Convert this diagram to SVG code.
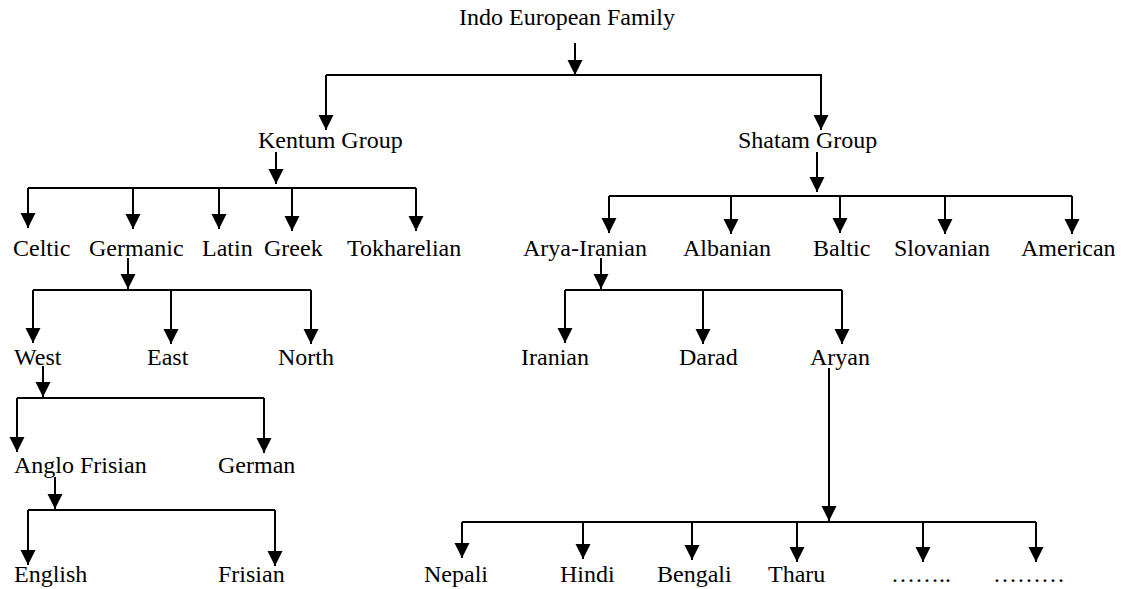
<svg xmlns="http://www.w3.org/2000/svg" width="1124" height="589" viewBox="0 0 1124 589">
<style>
.t{font-family:"Liberation Serif","Times New Roman",serif;font-size:24px;fill:#000}
.c line,.c polyline{stroke:#000;stroke-width:2;fill:none}
.a{marker-end:url(#ah)}
</style>
<defs>
<marker id="ah" markerUnits="userSpaceOnUse" markerWidth="16" markerHeight="16" refX="15" refY="7.5" orient="auto">
<path d="M0,0 L15,7.5 L0,15 Z" fill="#000"/>
</marker>
</defs>
<rect width="1124" height="589" fill="#fff"/>
<g id="connectors" class="c">
<line class="a" x1="575" y1="43" x2="575" y2="75"/>
<polyline class="a" points="326,75 821,75 821,130"/>
<line class="a" x1="326" y1="75" x2="326" y2="130"/>

<line class="a" x1="276" y1="152" x2="276" y2="184"/>
<line x1="28" y1="188" x2="416" y2="188"/>
<line class="a" x1="28" y1="188" x2="28" y2="228"/>
<line class="a" x1="133" y1="188" x2="133" y2="229"/>
<line class="a" x1="219" y1="188" x2="219" y2="229"/>
<line class="a" x1="292" y1="188" x2="292" y2="231"/>
<line class="a" x1="416" y1="188" x2="416" y2="231"/>

<line class="a" x1="817" y1="152" x2="817" y2="192"/>
<line x1="609" y1="196" x2="1072" y2="196"/>
<line class="a" x1="609" y1="196" x2="609" y2="233"/>
<line class="a" x1="731" y1="196" x2="731" y2="234"/>
<line class="a" x1="840" y1="196" x2="840" y2="233"/>
<line class="a" x1="945" y1="196" x2="945" y2="234"/>
<line class="a" x1="1072" y1="196" x2="1072" y2="234"/>

<line class="a" x1="128" y1="258" x2="128" y2="289"/>
<line x1="33" y1="290" x2="311" y2="290"/>
<line class="a" x1="33" y1="290" x2="33" y2="343"/>
<line class="a" x1="171" y1="290" x2="171" y2="344"/>
<line class="a" x1="311" y1="290" x2="311" y2="344"/>

<line class="a" x1="601" y1="258" x2="601" y2="289"/>
<line x1="565" y1="290" x2="842" y2="290"/>
<line class="a" x1="565" y1="290" x2="565" y2="343"/>
<line class="a" x1="703" y1="290" x2="703" y2="344"/>
<line class="a" x1="842" y1="290" x2="842" y2="344"/>

<line class="a" x1="43" y1="366" x2="43" y2="397"/>
<line x1="17" y1="398" x2="264" y2="398"/>
<line class="a" x1="17" y1="398" x2="17" y2="452"/>
<line class="a" x1="264" y1="398" x2="264" y2="453"/>

<line class="a" x1="55" y1="477" x2="55" y2="509"/>
<line x1="28" y1="510" x2="275" y2="510"/>
<line class="a" x1="28" y1="510" x2="28" y2="565"/>
<line class="a" x1="275" y1="510" x2="275" y2="566"/>

<line class="a" x1="829" y1="368" x2="829" y2="521"/>
<line x1="462" y1="522" x2="1036" y2="522"/>
<line class="a" x1="462" y1="522" x2="462" y2="558"/>
<line class="a" x1="583" y1="522" x2="583" y2="559"/>
<line class="a" x1="692" y1="522" x2="692" y2="560"/>
<line class="a" x1="797" y1="522" x2="797" y2="562"/>
<line class="a" x1="923" y1="522" x2="923" y2="562"/>
<line class="a" x1="1036" y1="522" x2="1036" y2="562"/>
</g>
<g id="n-indo"><text class="t" x="459" y="25">Indo European Family</text></g>
<g id="n-kentum"><text class="t" x="258" y="148">Kentum Group</text></g>
<g id="n-shatam"><text class="t" x="738" y="148">Shatam Group</text></g>
<g id="n-celtic"><text class="t" x="13" y="256">Celtic</text></g>
<g id="n-germanic"><text class="t" x="89" y="256">Germanic</text></g>
<g id="n-latin"><text class="t" x="202" y="256">Latin</text></g>
<g id="n-greek"><text class="t" x="264" y="256">Greek</text></g>
<g id="n-tokharelian"><text class="t" x="347" y="256">Tokharelian</text></g>
<g id="n-aryairanian"><text class="t" x="523" y="256">Arya-Iranian</text></g>
<g id="n-albanian"><text class="t" x="683" y="256">Albanian</text></g>
<g id="n-baltic"><text class="t" x="813" y="256">Baltic</text></g>
<g id="n-slovanian"><text class="t" x="894" y="256">Slovanian</text></g>
<g id="n-american"><text class="t" x="1021" y="256">American</text></g>
<g id="n-west"><text class="t" x="14" y="365">West</text></g>
<g id="n-east"><text class="t" x="147" y="365">East</text></g>
<g id="n-north"><text class="t" x="278" y="365">North</text></g>
<g id="n-iranian"><text class="t" x="521" y="365">Iranian</text></g>
<g id="n-darad"><text class="t" x="679" y="365">Darad</text></g>
<g id="n-aryan"><text class="t" x="810" y="365">Aryan</text></g>
<g id="n-anglofrisian"><text class="t" x="14" y="473">Anglo Frisian</text></g>
<g id="n-german"><text class="t" x="218" y="473">German</text></g>
<g id="n-english"><text class="t" x="14" y="582">English</text></g>
<g id="n-frisian"><text class="t" x="218" y="582">Frisian</text></g>
<g id="n-nepali"><text class="t" x="424" y="582">Nepali</text></g>
<g id="n-hindi"><text class="t" x="560" y="582">Hindi</text></g>
<g id="n-bengali"><text class="t" x="657" y="582">Bengali</text></g>
<g id="n-tharu"><text class="t" x="768" y="582">Tharu</text></g>
<g id="n-dots1"><text class="t" x="891" y="582">……..</text></g>
<g id="n-dots2"><text class="t" x="993" y="582">………</text></g>
</svg>
